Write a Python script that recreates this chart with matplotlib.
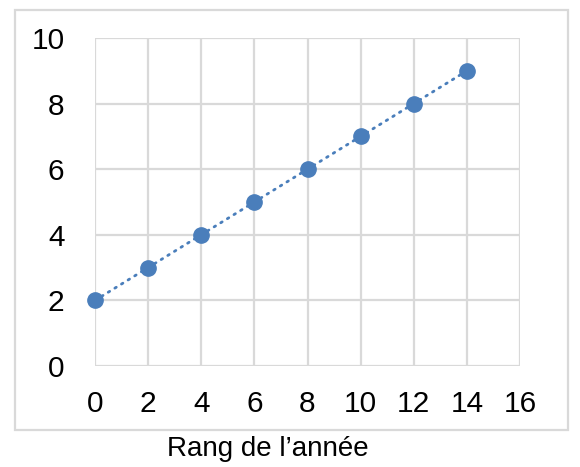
import matplotlib
matplotlib.use("Agg")
import matplotlib.pyplot as plt
from matplotlib.patches import Rectangle

x_values = [0, 2, 4, 6, 8, 10, 12, 14]
y_values = [2, 3, 4, 5, 6, 7, 8, 9]
x_ticks = [0, 2, 4, 6, 8, 10, 12, 14, 16]
y_ticks = [0, 2, 4, 6, 8, 10]
x_label = "Rang de l’année"

plt.rcParams['font.family'] = ['Liberation Sans', 'DejaVu Sans']

W, H = 580, 467
fig = plt.figure(figsize=(W / 100, H / 100), dpi=100)
ax = fig.add_axes([95 / W, 1 - 366 / H, (520 - 95) / W, (366 - 38) / H])

# outer border
fig.patches.append(Rectangle((15 / W, 1 - 430 / H), (568 - 15) / W, (430 - 10) / H,
                             transform=fig.transFigure, fill=False,
                             edgecolor='#d9d9d9', linewidth=1.6))

ax.plot(x_values, y_values, color='#4a7ebb', linewidth=2.0,
        linestyle=(0, (0.6, 2.2)), dash_capstyle='round', zorder=3,
        marker='o', markersize=11, markerfacecolor='#4a7ebb',
        markeredgecolor='#4a7ebb', clip_on=False)

ax.set_xlim(0, 16)
ax.set_ylim(0, 10)
ax.set_xticks(x_ticks)
ax.set_yticks(y_ticks)
ax.grid(True, color='#d9d9d9', linewidth=1.6)
ax.set_axisbelow(True)
for s in ax.spines.values():
    s.set_visible(False)
ax.tick_params(length=0, labelsize=21.5, colors='#000000')
ax.tick_params(axis='x', pad=17)
ax.tick_params(axis='y', pad=22)

fig.text(268 / W, 1 - 449 / H, x_label, ha='center', va='center', fontsize=20)

fig.savefig('out.png', dpi=100)
